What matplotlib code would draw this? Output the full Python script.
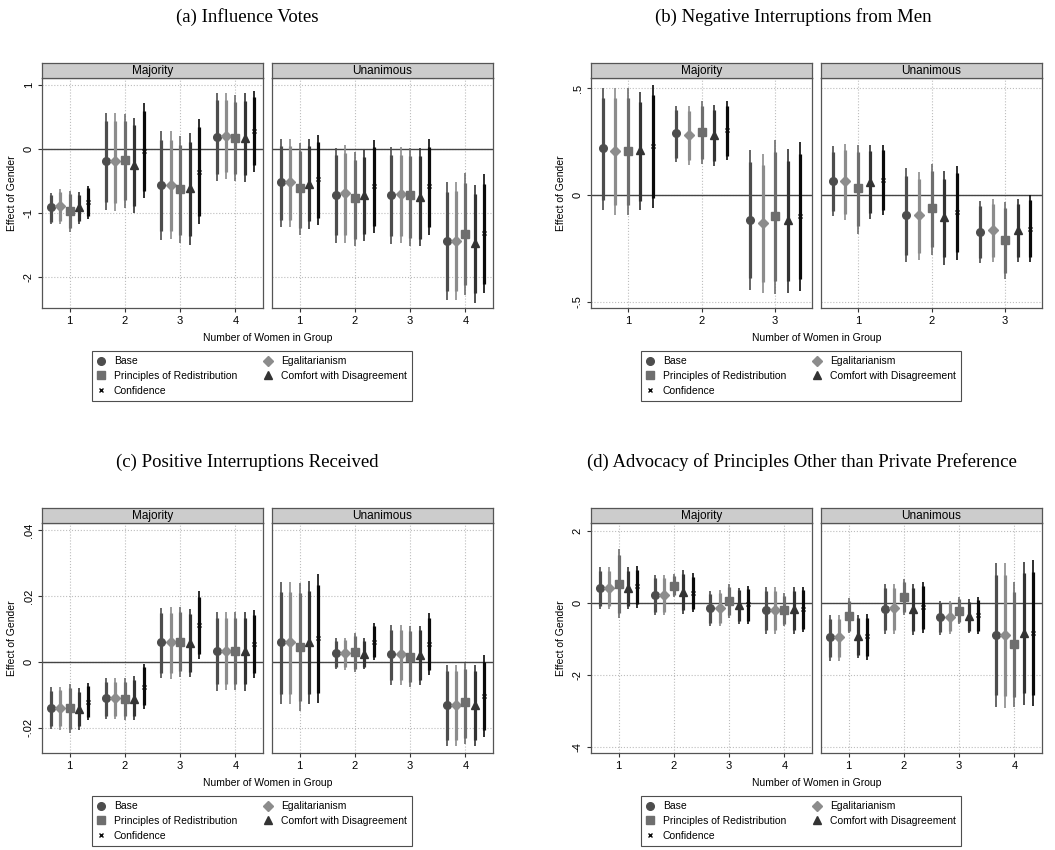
import numpy as np
import matplotlib.pyplot as plt
from matplotlib.lines import Line2D

plt.rcParams['font.family'] = ['Liberation Sans', 'DejaVu Sans']

models = ['Base', 'Egalitarianism', 'Principles of Redistribution',
          'Comfort with Disagreement', 'Confidence']
colors = ['#4d4d4d', '#8c8c8c', '#6e6e6e', '#333333', '#0a0a0a']
markers = ['o', 'D', 's', '^', 'x']
msizes = [5.5, 5, 5.5, 5.5, 3.5]
offsets = [-0.34, -0.17, 0.0, 0.17, 0.34]

# rows = number of women in group, columns = models (Base, Egal, Princ, Comfort, Conf)
# (a) Influence Votes
a_maj_est = [[-0.90, -0.89, -0.96, -0.91, -0.82],
             [-0.18, -0.19, -0.17, -0.25, -0.03],
             [-0.56, -0.56, -0.62, -0.61, -0.35],
             [0.19, 0.21, 0.18, 0.18, 0.29]]
a_maj_lo = [[-1.17, -1.17, -1.29, -1.17, -1.09],
            [-0.95, -0.96, -0.92, -1.00, -0.77],
            [-1.42, -1.41, -1.47, -1.49, -1.17],
            [-0.49, -0.47, -0.49, -0.52, -0.35]]
a_maj_hi = [[-0.68, -0.63, -0.65, -0.67, -0.57],
            [0.56, 0.56, 0.55, 0.49, 0.72],
            [0.28, 0.28, 0.20, 0.25, 0.47],
            [0.87, 0.87, 0.85, 0.87, 0.91]]
a_uni_est = [[-0.52, -0.52, -0.61, -0.54, -0.47],
             [-0.71, -0.69, -0.77, -0.71, -0.57],
             [-0.71, -0.70, -0.72, -0.74, -0.57],
             [-1.43, -1.43, -1.32, -1.47, -1.31]]
a_uni_lo = [[-1.22, -1.21, -1.34, -1.24, -1.18],
            [-1.46, -1.47, -1.52, -1.44, -1.31],
            [-1.48, -1.47, -1.51, -1.52, -1.34],
            [-2.36, -2.36, -2.28, -2.40, -2.25]]
a_uni_hi = [[0.16, 0.16, 0.09, 0.16, 0.22],
            [0.02, 0.06, -0.05, -0.01, 0.15],
            [0.03, 0.03, 0.02, 0.02, 0.16],
            [-0.52, -0.51, -0.38, -0.56, -0.39]]

# (b) Negative Interruptions from Men
b_maj_est = [[0.218, 0.207, 0.204, 0.209, 0.227],
             [0.288, 0.280, 0.293, 0.280, 0.302],
             [-0.115, -0.131, -0.100, -0.118, -0.100]]
b_maj_lo = [[-0.070, -0.095, -0.095, -0.070, -0.060],
            [0.154, 0.142, 0.146, 0.137, 0.162],
            [-0.442, -0.458, -0.461, -0.458, -0.450]]
b_maj_hi = [[0.500, 0.500, 0.500, 0.480, 0.515],
            [0.417, 0.417, 0.440, 0.422, 0.438],
            [0.209, 0.193, 0.259, 0.215, 0.246]]
b_uni_est = [[0.064, 0.065, 0.033, 0.060, 0.068],
             [-0.092, -0.092, -0.061, -0.104, -0.079],
             [-0.173, -0.165, -0.212, -0.165, -0.157]]
b_uni_lo = [[-0.100, -0.118, -0.180, -0.110, -0.095],
            [-0.315, -0.302, -0.279, -0.326, -0.302],
            [-0.318, -0.313, -0.391, -0.313, -0.313]]
b_uni_hi = [[0.227, 0.240, 0.235, 0.234, 0.235],
            [0.126, 0.107, 0.146, 0.110, 0.137],
            [-0.026, -0.019, -0.034, -0.019, 0.000]]

# (c) Positive Interruptions Received
c_maj_est = [[-0.0141, -0.0141, -0.0141, -0.0143, -0.0121],
             [-0.0111, -0.0111, -0.0112, -0.0113, -0.0075],
             [0.0059, 0.0059, 0.0060, 0.0058, 0.0112],
             [0.0032, 0.0032, 0.0032, 0.0032, 0.0054]]
c_maj_lo = [[-0.0205, -0.0207, -0.0215, -0.0206, -0.0178],
            [-0.0174, -0.0174, -0.0176, -0.0176, -0.0143],
            [-0.0050, -0.0051, -0.0046, -0.0047, 0.0008],
            [-0.0088, -0.0087, -0.0087, -0.0088, -0.0050]]
c_maj_hi = [[-0.0077, -0.0075, -0.0068, -0.0080, -0.0065],
            [-0.0050, -0.0050, -0.0050, -0.0044, -0.0006],
            [0.0165, 0.0166, 0.0168, 0.0161, 0.0215],
            [0.0151, 0.0151, 0.0151, 0.0151, 0.0158]]
c_uni_est = [[0.0061, 0.0061, 0.0046, 0.0061, 0.0074],
             [0.0026, 0.0026, 0.0031, 0.0024, 0.0061],
             [0.0023, 0.0024, 0.0016, 0.0021, 0.0055],
             [-0.0130, -0.0131, -0.0122, -0.0132, -0.0103]]
c_uni_lo = [[-0.0127, -0.0127, -0.0150, -0.0127, -0.0125],
            [-0.0022, -0.0024, -0.0032, -0.0022, 0.0006],
            [-0.0070, -0.0070, -0.0077, -0.0070, -0.0039],
            [-0.0257, -0.0257, -0.0251, -0.0257, -0.0228]]
c_uni_hi = [[0.0243, 0.0243, 0.0240, 0.0245, 0.0266],
            [0.0072, 0.0074, 0.0087, 0.0072, 0.0117],
            [0.0112, 0.0112, 0.0109, 0.0110, 0.0147],
            [-0.0009, -0.0009, -0.0002, -0.0009, 0.0021]]

# (d) Advocacy of Principles Other than Private Preference
d_maj_est = [[0.41, 0.41, 0.52, 0.41, 0.46],
             [0.21, 0.21, 0.47, 0.30, 0.28],
             [-0.14, -0.14, 0.05, -0.06, -0.04],
             [-0.20, -0.20, -0.20, -0.18, -0.17]]
d_maj_lo = [[-0.18, -0.18, -0.43, -0.18, -0.14],
            [-0.35, -0.35, 0.15, -0.31, -0.27],
            [-0.65, -0.65, -0.43, -0.59, -0.59],
            [-0.87, -0.87, -0.66, -0.87, -0.82]]
d_maj_hi = [[0.98, 0.98, 1.48, 0.98, 1.01],
            [0.76, 0.76, 0.79, 0.90, 0.81],
            [0.33, 0.35, 0.52, 0.42, 0.46],
            [0.44, 0.44, 0.26, 0.44, 0.44]]
d_uni_est = [[-0.96, -0.94, -0.36, -0.92, -0.92],
             [-0.17, -0.16, 0.17, -0.18, -0.11],
             [-0.41, -0.39, -0.22, -0.36, -0.34],
             [-0.89, -0.89, -1.15, -0.83, -0.83]]
d_uni_lo = [[-1.61, -1.61, -0.85, -1.54, -1.59],
            [-0.88, -0.86, -0.34, -0.91, -0.85],
            [-0.89, -0.86, -0.59, -0.85, -0.87],
            [-2.89, -2.91, -2.89, -2.83, -2.88]]
d_uni_hi = [[-0.34, -0.34, 0.12, -0.34, -0.32],
            [0.51, 0.51, 0.65, 0.51, 0.58],
            [0.06, 0.06, 0.15, 0.10, 0.15],
            [1.09, 1.09, 0.56, 1.13, 1.18]]

panels = [
    ('(a) Influence Votes', (a_maj_est, a_maj_lo, a_maj_hi), (a_uni_est, a_uni_lo, a_uni_hi),
     (-2.48, 1.11), [-2, -1, 0, 1], ['-2', '-1', '0', '1']),
    ('(b) Negative Interruptions from Men', (b_maj_est, b_maj_lo, b_maj_hi), (b_uni_est, b_uni_lo, b_uni_hi),
     (-0.528, 0.547), [-0.5, 0, 0.5], ['-.5', '0', '.5']),
    ('(c) Positive Interruptions Received', (c_maj_est, c_maj_lo, c_maj_hi), (c_uni_est, c_uni_lo, c_uni_hi),
     (-0.0277, 0.0422), [-0.02, 0, 0.02, 0.04], ['-.02', '0', '.02', '.04']),
    ('(d) Advocacy of Principles Other than Private Preference', (d_maj_est, d_maj_lo, d_maj_hi),
     (d_uni_est, d_uni_lo, d_uni_hi), (-4.17, 2.21), [-4, -2, 0, 2], ['-4', '-2', '0', '2']),
]

W, H = 1055, 850
fig = plt.figure(figsize=(W / 100, H / 100), dpi=100)


def fx(px):
    return px / W


def fy(py):
    return 1 - py / H


def draw(ax, est, lo, hi):
    est, lo, hi = np.array(est), np.array(lo), np.array(hi)
    x = np.arange(1, est.shape[0] + 1)
    for j in range(len(models)):
        xs = x + offsets[j]
        mid = (lo[:, j] + hi[:, j]) / 2
        half = (hi[:, j] - lo[:, j]) / 2 * 1.645 / 1.96  # 90% band
        ax.vlines(xs, lo[:, j], hi[:, j], color=colors[j], lw=1.2, zorder=3)
        ax.vlines(xs, mid - half, mid + half, color=colors[j], lw=2.3, zorder=3)
        ax.plot(xs, est[:, j], ls='none', marker=markers[j], ms=msizes[j], color=colors[j],
                mew=1.0, zorder=4)


# left edges of Majority facets and plot-area top/bottom (pixels)
col_left = [(42, 272), (591, 821)]
row_y = [(78, 308), (523, 753)]
fw = 221
strip_h = 15

for i, (title, maj, uni, ylim, yt, ytl) in enumerate(panels):
    r, c = divmod(i, 2)
    top, bot = row_y[r]
    for k, (data, name) in enumerate([(maj, 'Majority'), (uni, 'Unanimous')]):
        left = col_left[c][k]
        ax = fig.add_axes([fx(left), fy(bot), fx(fw), (bot - top) / H])
        draw(ax, *data)
        n = len(data[0])
        ax.set_xlim(0.5, n + 0.5)
        ax.set_ylim(*ylim)
        ax.set_xticks(range(1, n + 1))
        ax.set_yticks(yt)
        ax.grid(True, ls=':', color='#bdbdbd', lw=0.8)
        ax.set_axisbelow(True)
        ax.axhline(0, color='#444444', lw=1.0, zorder=2)
        ax.tick_params(labelsize=8, length=3, color='#333333', pad=3)
        for s in ax.spines.values():
            s.set_color('#555555')
            s.set_linewidth(0.9)
        if k == 0:
            ax.set_yticklabels(ytl, rotation=90, va='center')
            ax.set_ylabel('Effect of Gender', fontsize=7.5, labelpad=5)
        else:
            ax.tick_params(axis='y', left=False, labelleft=False)
        sax = fig.add_axes([fx(left), fy(top), fx(fw), strip_h / H])
        sax.set_facecolor('#cccccc')
        sax.set_xticks([])
        sax.set_yticks([])
        for s in sax.spines.values():
            s.set_color('#555555')
            s.set_linewidth(0.9)
        sax.text(0.5, 0.45, name, ha='center', va='center', fontsize=8.5)

    cx = (col_left[c][0] + col_left[c][1] + fw) / 2
    fig.text(fx(cx), fy(bot + 30), 'Number of Women in Group', ha='center', va='center', fontsize=7.5)
    title_x = [247, 793, 247, 802][i]
    fig.text(fx(title_x), fy(top - 61), title, ha='center', va='center', fontsize=13.5,
             family=['Liberation Serif', 'DejaVu Serif'])

    handles = [Line2D([], [], ls='none', marker=markers[j], ms=msizes[j], color=colors[j], mew=1.0)
               for j in range(len(models))]
    order = [0, 2, 4, 1, 3]
    lx = col_left[c][0] + 50
    leg = fig.legend([handles[o] for o in order], [models[o] for o in order],
                     loc='upper left', bbox_to_anchor=(fx(lx), fy(bot + 96), fx(320), 53 / H),
                     mode='expand', ncol=2, fontsize=7.5, frameon=True, fancybox=False,
                     edgecolor='#222222', handlelength=0.8, handletextpad=0.8,
                     labelspacing=0.45, borderpad=0.5, borderaxespad=0)
    leg.get_frame().set_linewidth(0.8)

fig.savefig('out.png', dpi=100)
